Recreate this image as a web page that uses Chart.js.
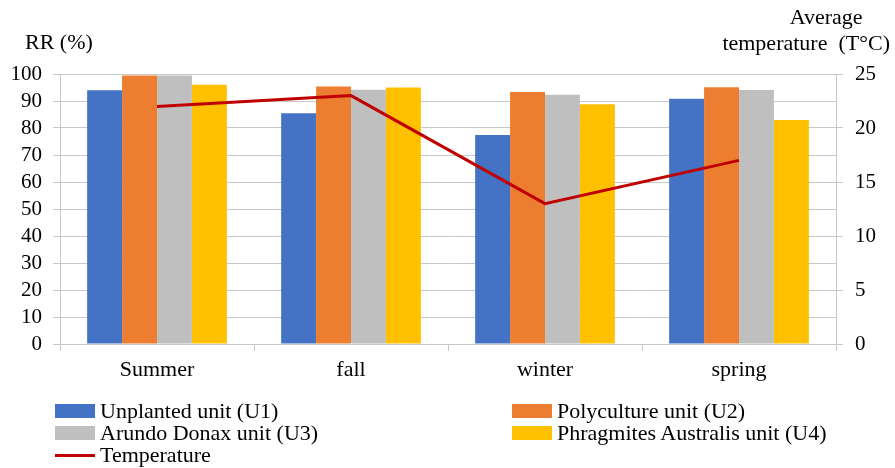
<!DOCTYPE html>
<html>
<head>
<meta charset="utf-8">
<script src="https://cdn.jsdelivr.net/npm/chart.js@4/dist/chart.umd.min.js"></script>
<style>
  body { margin:0; background:#fff; font-family:"Liberation Serif", serif; }
  #wrap { position:relative; width:895px; height:468px; }
  canvas { position:absolute; left:0; top:0; }
  .title { position:absolute; font-size:22px; color:#000; line-height:26px; }
  .leg { position:absolute; font-size:22px; color:#000; display:flex; align-items:center; height:22px; white-space:nowrap; }
  .leg .box { width:40px; height:14px; margin-right:5px; }
  .leg .ln { width:40px; height:3px; margin-right:5px; }
</style>
</head>
<body>
<div id="wrap">
  <canvas id="rrChart" width="895" height="468"></canvas>
  <div class="title" style="left:25px;top:29px;">RR (%)</div>
  <div class="title" style="right:5px;top:4px;">
    <div style="text-align:center;padding-left:40px">Average</div>
    <div>temperature&nbsp; (T°C)</div>
  </div>
  <div id="legend"></div>
</div>
<script>
// ---- data ----
const seasons     = ["Summer", "fall", "winter", "spring"];
const unplanted   = [94, 85.5, 77.4, 90.8];
const polyculture = [99.4, 95.4, 93.3, 95.1];
const arundo      = [99.4, 94.2, 92.3, 94.1];
const phragmites  = [96, 95, 88.8, 83];
const temperature = [22, 23, 13, 17];

const barSeries = [
  { label:"Unplanted unit (U1)",             data: unplanted,   color:"#4472C4" },
  { label:"Polyculture unit (U2)",           data: polyculture, color:"#ED7D31" },
  { label:"Arundo Donax unit (U3)",          data: arundo,      color:"#BFBFBF" },
  { label:"Phragmites Australis unit (U4)",  data: phragmites,  color:"#FFC000" },
];
const lineColor = "#C00000";

const tickFont = { family:"Liberation Serif", size:21 };
const catFont  = { family:"Liberation Serif", size:22 };
const gridColor = "#C8C8C8";

const ctx = document.getElementById('rrChart');
new Chart(ctx, {
  type: 'bar',
  data: {
    labels: seasons,
    datasets: [
      { type:'line', label:"Temperature", data: temperature, yAxisID:'y1', borderColor: lineColor,
        backgroundColor: lineColor, borderWidth: 3, pointRadius: 0, tension: 0, order: 0 },
      ...barSeries.map(s => ({
        label: s.label, data: s.data, backgroundColor: s.color, yAxisID:'y',
        categoryPercentage: 0.72, barPercentage: 1.0, order: 1
      }))
    ]
  },
  options: {
    responsive: false,
    animation: false,
    layout: { padding: { top: 74, bottom: 84, left: 0, right: 0 } },
    plugins: { legend: { display:false }, tooltip: { enabled:false } },
    scales: {
      x: {
        grid: { display:true, drawOnChartArea:false, tickLength:7, color: gridColor, offset:true },
        border: { color: gridColor },
        ticks: { font: catFont, color:'#000', padding: 6 },
        afterFit: s => { s.height = 40; }
      },
      y: {
        position:'left', min:0, max:100,
        ticks: { stepSize:10, autoSkip:false, font: tickFont, color:'#000', padding: 11 },
        grid: { color: gridColor, tickLength: 7 },
        border: { color: gridColor },
        afterFit: s => { s.width = 60; }
      },
      y1: {
        position:'right', min:0, max:25,
        ticks: { stepSize:5, autoSkip:false, font: tickFont, color:'#000', padding: 12 },
        grid: { drawOnChartArea:false, color: gridColor, tickLength: 7 },
        border: { color: gridColor },
        afterFit: s => { s.width = 59; }
      }
    }
  }
});

// ---- legend ----
const legend = document.getElementById('legend');
const legendPos = [
  { left:55,  top:400 }, { left:512, top:400 },
  { left:55,  top:422 }, { left:512, top:422 },
];
barSeries.forEach((s, i) => {
  const d = document.createElement('div');
  d.className = 'leg';
  d.style.left = legendPos[i].left + 'px';
  d.style.top = legendPos[i].top + 'px';
  d.innerHTML = `<span class="box" style="background:${s.color}"></span>${s.label}`;
  legend.appendChild(d);
});
const t = document.createElement('div');
t.className = 'leg';
t.style.left = '55px'; t.style.top = '444px';
t.innerHTML = `<span class="ln" style="background:${lineColor}"></span>Temperature`;
legend.appendChild(t);
</script>
</body>
</html>
